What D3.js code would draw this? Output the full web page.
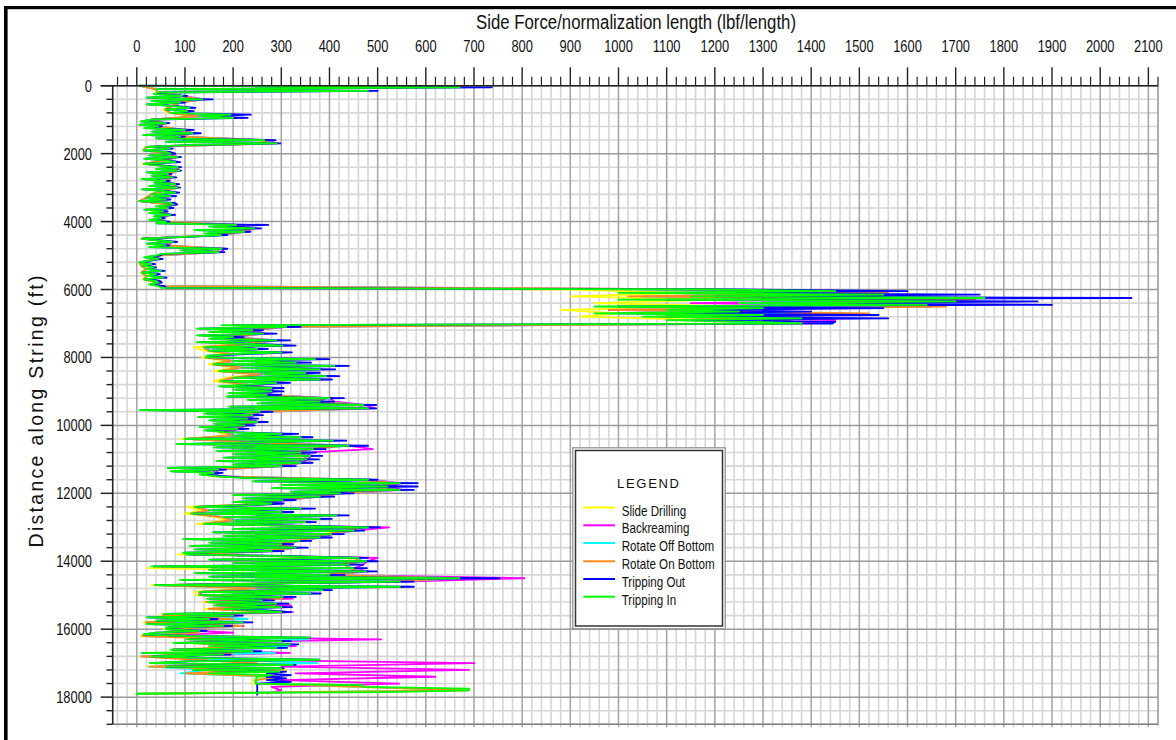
<!DOCTYPE html>
<html><head><meta charset="utf-8">
<script src="https://cdn.jsdelivr.net/npm/d3@7"></script>
<style>
body{margin:0;background:#fff;}
svg{display:block;}
</style></head><body>
<svg id="c" width="1176" height="740"></svg>
<script>
// ---------------- DATA ----------------
const depthsCoarse = d3.range(0, 18000, 100); // sampling grid (ft) for drilling / rotating / backreaming
const depthsFine = d3.range(0, 18000, 50);    // sampling grid (ft) for tripping runs
const xTickLabels = [0,100,200,300,400,500,600,700,800,900,1000,1100,1200,1300,1400,1500,1600,1700,1800,1900,2000,2100];
const yTickLabels = [0,2000,4000,6000,8000,10000,12000,14000,16000,18000];
const seriesNames = ["Slide Drilling","Backreaming","Rotate Off Bottom","Rotate On Bottom","Tripping Out","Tripping In"];
const seriesColors = ["#ffff00","#ff00ff","#00ffff","#ff8c1a","#0000ff","#00ff00"];

const slideDrilling = [
5,36,42,90,128,85,70,55,66,122,
28,55,42,95,110,85,250,270,18,12,
66,80,55,12,80,82,60,70,55,75,
80,50,26,18,4,70,60,50,65,46,
55,195,230,210,165,8,70,55,165,160,
36,42,4,8,18,8,18,12,40,40,
900,1150,900,1200,950,1250,880,1000,920,1200,
1250,290,225,245,185,270,215,118,140,185,
135,185,150,205,160,245,185,160,215,265,
265,255,380,360,445,450,240,225,215,235,
210,195,170,185,90,235,415,345,320,340,
330,320,285,155,150,155,450,520,495,520,
400,360,285,265,105,135,100,165,185,125,
455,425,385,360,320,280,310,265,85,440,
450,415,22,450,380,640,520,30,235,120,
120,290,138,275,140,285,48,190,14,210,
55,120,8,340,95,300,70,275,6,170,
360,22,310,110,280,240,240,450,660,0];

const backreaming = [
5,40,45,95,140,90,75,60,70,135,
30,60,45,100,116,90,268,292,20,14,
70,85,60,15,85,88,65,75,60,80,
85,55,30,20,5,75,65,55,70,50,
60,210,244,223,175,10,75,60,182,175,
40,45,5,10,20,10,20,15,45,45,
1200,1500,1050,1700,1150,1650,980,1400,1100,1450,
1380,312,242,265,202,292,232,142,152,202,
146,202,162,222,174,262,202,177,232,282,
282,272,402,410,472,495,257,242,232,252,
226,212,184,202,100,252,442,490,345,362,
355,342,302,171,162,171,485,548,525,550,
425,383,306,282,122,152,115,182,202,142,
524,452,406,383,340,302,333,282,105,500,
478,470,452,480,402,805,555,38,386,133,
133,324,148,320,152,324,56,220,21,222,
63,200,14,507,106,330,78,318,11,179,
701,300,690,330,620,300,545,280,300,270];

const rotateOffBottom = [
5,39,45,93,134,89,73,59,69,128,
29,59,44,98,114,89,260,285,20,14,
69,83,59,15,83,86,64,73,59,79,
83,54,29,20,6,73,64,54,69,49,
59,202,240,220,172,10,73,59,174,168,
39,44,6,10,20,10,20,15,44,44,
1180,1500,1050,1720,1250,1650,1000,1350,1200,1150,
1334,305,237,258,198,286,228,139,149,198,
143,198,159,218,171,257,198,173,228,277,
277,267,396,376,465,475,252,238,228,248,
222,208,181,198,99,248,435,362,337,356,
348,337,297,167,159,167,475,540,515,540,
418,376,300,277,120,149,113,178,198,139,
475,445,400,376,335,297,327,277,103,455,
471,436,445,471,396,662,540,38,248,130,
129,300,143,287,230,298,53,230,19,217,
59,128,12,355,101,315,74,287,9,176,
375,25,150,90,292,245,246,465,685,0];

const rotateOnBottom = [
5,38,44,92,132,88,72,58,68,126,
29,58,44,97,112,88,258,282,20,14,
68,82,58,15,82,85,63,72,58,78,
82,53,29,20,6,72,63,53,68,48,
58,200,238,218,170,10,72,58,172,166,
39,44,6,10,20,10,20,15,44,44,
1190,1560,1020,1740,1330,1680,980,1520,1080,1360,
1340,300,235,255,196,282,226,138,148,196,
142,196,158,216,170,255,196,172,226,275,
275,265,392,372,460,470,250,236,226,245,
220,206,180,196,100,245,430,358,334,352,
345,334,295,166,158,166,470,535,510,535,
414,372,298,275,120,148,112,176,196,138,
470,440,396,372,332,295,325,275,103,450,
466,432,440,466,392,655,535,40,245,130,
130,302,144,288,149,299,54,199,19,219,
60,129,12,200,102,250,75,200,9,120,
250,26,250,100,295,247,247,467,688,0];

const trippingOut = [
5,737,45,500,48,38,105,22,158,32,100,22,85,122,62,118,75,237,135,230,
32,10,68,6,52,18,118,33,133,15,100,42,288,65,298,105,22,75,16,68,
80,28,92,18,66,90,18,58,92,42,92,22,72,32,82,12,68,38,88,28,
90,12,60,88,32,82,22,70,7,78,84,45,76,18,64,28,80,38,58,28,
68,42,273,160,258,125,236,150,188,105,12,45,84,22,68,28,188,95,182,55,
48,18,54,28,8,38,12,40,22,58,12,48,25,62,18,48,52,28,58,60,
1250,1600,1100,1750,1200,2065,1100,1870,1300,1900,1000,1550,1150,1400,1000,1540,1100,1560,1150,1450,
1444,200,340,130,262,155,290,130,222,155,318,130,250,330,145,272,155,322,225,150,
150,400,205,362,165,440,225,412,180,380,265,420,205,405,180,318,250,175,305,205,
305,195,300,190,430,235,410,260,497,195,497,8,282,145,262,130,252,155,272,165,
245,135,232,145,190,335,205,365,105,435,255,85,480,165,392,170,372,205,385,185,
378,170,365,205,330,65,185,75,178,135,185,230,500,245,583,305,583,285,575,325,
450,205,410,225,330,205,305,235,125,370,155,325,118,440,185,405,205,372,145,325,
505,205,472,160,430,185,405,100,362,155,325,115,355,125,305,100,110,325,480,155,
500,205,470,35,478,155,498,125,432,155,753,95,575,305,40,575,270,405,135,382,
135,330,150,285,155,315,165,322,185,272,320,58,220,22,168,42,240,22,198,65,
65,145,42,15,112,360,110,320,80,335,160,312,75,258,12,195,32,165,379,105,
30,330,62,305,120,310,270,320,269,310,270,320,250,250,250,250,250,250,250,250];

const trippingIn = [
5,670,40,480,45,35,95,20,137,30,90,20,75,110,60,105,70,195,130,200,
30,8,60,5,45,15,100,30,116,13,90,40,265,60,290,100,20,68,14,60,
70,25,85,15,60,80,15,50,85,40,88,20,65,30,75,10,60,35,80,25,
85,10,55,80,30,70,20,60,5,70,75,40,65,15,55,25,70,35,50,25,
60,40,206,150,244,120,223,140,175,100,10,40,75,20,60,25,176,90,170,50,
40,15,45,25,5,30,10,35,20,50,10,40,20,55,15,40,45,25,45,50,
1200,1450,1000,1550,1150,1760,1000,1700,1250,1640,950,1300,1100,1250,950,1300,1050,1380,1100,1280,
1380,176,310,124,240,150,262,124,200,150,290,124,230,303,140,250,150,300,200,145,
145,370,200,330,160,410,220,380,172,350,260,393,200,380,175,289,230,170,280,200,
280,190,270,186,400,230,380,250,470,190,480,6,255,140,240,127,230,150,250,160,
224,130,210,140,182,300,200,341,99,407,250,82,440,160,366,165,340,200,360,180,
352,165,340,200,300,65,169,70,160,130,169,227,480,240,546,300,520,280,546,320,
422,200,380,220,303,200,280,230,120,341,150,300,113,414,180,380,200,350,140,300,
480,200,450,158,404,180,380,96,338,150,300,110,330,120,280,96,103,300,460,150,
476,200,440,30,450,150,476,120,400,150,670,89,546,300,37,546,250,386,131,360,
131,303,145,260,150,290,160,300,180,250,300,55,200,20,150,40,220,20,180,61,
61,130,40,13,100,359,103,300,76,318,150,290,70,240,10,179,30,150,379,100,
27,324,60,300,117,296,150,280,248,248,248,248,248,469,469,690,690,524,0,0];

const seriesValues = [slideDrilling, backreaming, rotateOffBottom, rotateOnBottom, trippingOut, trippingIn];
const seriesDepths = [depthsCoarse, depthsCoarse, depthsCoarse, depthsCoarse, depthsFine, depthsFine];

// ---------------- CHART ----------------
const svg = d3.select("#c");
const FONT = '"Liberation Sans",Arial,sans-serif';
const L = 112.7, R = 1158, T = 85.7, B = 724.3;
const x = d3.scaleLinear().domain([-50, 2120]).range([L, R]);
const y = d3.scaleLinear().domain([0, 18800]).range([T, B]);

function narrow(sel, factor) {
  sel.each(function () {
    const w = this.getComputedTextLength();
    d3.select(this).attr("textLength", (w * factor).toFixed(1)).attr("lengthAdjust", "spacingAndGlyphs");
  });
}

svg.append("rect").attr("width",1176).attr("height",740).attr("fill","#fff");

// frame (black)
svg.append("rect").attr("x",4).attr("y",6).attr("width",1172).attr("height",3.2).attr("fill","#000");
svg.append("rect").attr("x",4).attr("y",6).attr("width",3.6).attr("height",734).attr("fill","#000");

// grid
const g = svg.append("g");
const xMinor = d3.range(-40, 2121, 20).filter(v => v % 100 !== 0);
const xMajor = d3.range(0, 2101, 100);
const yMinor = d3.range(400, 18801, 400).filter(v => v % 2000 !== 0);
const yMajor = d3.range(0, 18001, 2000);
g.selectAll(".vmin").data(xMinor).join("line")
  .attr("x1", d => x(d)).attr("x2", d => x(d)).attr("y1", T).attr("y2", B + 3)
  .attr("stroke", "#d6d6d6").attr("stroke-width", 1.6);
g.selectAll(".hmin").data(yMinor).join("line")
  .attr("y1", d => y(d)).attr("y2", d => y(d)).attr("x1", L).attr("x2", R)
  .attr("stroke", "#d6d6d6").attr("stroke-width", 1.6);
g.selectAll(".vmaj").data(xMajor).join("line")
  .attr("x1", d => x(d)).attr("x2", d => x(d)).attr("y1", T).attr("y2", B + 3)
  .attr("stroke", "#a3a3a3").attr("stroke-width", 1.5);
g.selectAll(".hmaj").data(yMajor).join("line")
  .attr("y1", d => y(d)).attr("y2", d => y(d)).attr("x1", L).attr("x2", R)
  .attr("stroke", "#9a9a9a").attr("stroke-width", 1.5);

// data lines
svg.append("clipPath").attr("id","clip").append("rect")
  .attr("x", L).attr("y", T - 2).attr("width", R - L).attr("height", B - T + 2);
const line = d3.line().x(d => x(d.v)).y(d => y(d.d)).curve(d3.curveLinear);
const dg = svg.append("g").attr("clip-path","url(#clip)");
seriesValues.forEach((vals, i) => {
  const pts = seriesDepths[i].map((d, k) => ({d: d, v: vals[k]})).filter(p => p.v !== undefined);
  dg.append("path").datum(pts).attr("d", line)
    .attr("fill","none").attr("stroke", seriesColors[i]).attr("stroke-width", 1.8)
    .attr("stroke-linejoin","round");
});

// right & bottom border of plot
svg.append("line").attr("x1",R).attr("x2",R).attr("y1",T).attr("y2",B).attr("stroke","#a0a0a0").attr("stroke-width",1.5);
svg.append("line").attr("x1",L).attr("x2",R).attr("y1",B).attr("y2",B).attr("stroke","#808080").attr("stroke-width",1.5);

// top axis
const ax = svg.append("g");
ax.append("line").attr("x1",100.7).attr("x2",R).attr("y1",T).attr("y2",T).attr("stroke","#222").attr("stroke-width",1.6);
ax.selectAll(".tmin").data(d3.range(-40, 2121, 20).filter(v => v % 100 !== 0)).join("line")
  .attr("x1", d => x(d)).attr("x2", d => x(d)).attr("y1", 76.7).attr("y2", T)
  .attr("stroke","#222").attr("stroke-width",1.2);
ax.selectAll(".tmaj").data(xTickLabels).join("line")
  .attr("x1", d => x(d)).attr("x2", d => x(d)).attr("y1", 67.3).attr("y2", T)
  .attr("stroke","#222").attr("stroke-width",1.4);
ax.selectAll(".tlab").data(xTickLabels).join("text")
  .attr("x", d => x(d)).attr("y", 51.5).attr("text-anchor","middle")
  .attr("font-family", FONT).attr("font-size", 16.5).attr("fill","#111")
  .text(d => d).call(narrow, 0.78);
ax.append("text").attr("x", 636).attr("y", 28.5).attr("text-anchor","middle")
  .attr("font-family", FONT).attr("font-size", 19.5).attr("fill","#111")
  .attr("textLength", 320).attr("lengthAdjust","spacingAndGlyphs")
  .text("Side Force/normalization length (lbf/length)");

// left axis
const ay = svg.append("g");
ay.append("line").attr("x1",L).attr("x2",L).attr("y1",T).attr("y2",B).attr("stroke","#222").attr("stroke-width",1.6);
ay.selectAll(".lmin").data(d3.range(400, 18801, 400).filter(v => v % 2000 !== 0)).join("line")
  .attr("y1", d => y(d)).attr("y2", d => y(d)).attr("x1", 106.5).attr("x2", L)
  .attr("stroke","#222").attr("stroke-width",1.4);
ay.selectAll(".lmaj").data(yTickLabels).join("line")
  .attr("y1", d => y(d)).attr("y2", d => y(d)).attr("x1", 100.7).attr("x2", L)
  .attr("stroke","#222").attr("stroke-width",1.5);
ay.selectAll(".llab").data(yTickLabels).join("text")
  .attr("x", 92).attr("y", d => y(d) + 6).attr("text-anchor","end")
  .attr("font-family", FONT).attr("font-size", 16.5).attr("fill","#111")
  .text(d => d).call(narrow, 0.78);
ay.append("text").attr("transform","translate(43,411.5) rotate(-90)").attr("text-anchor","middle")
  .attr("font-family", FONT).attr("font-size", 19.5).attr("fill","#111")
  .attr("textLength", 272).attr("lengthAdjust","spacing")
  .text("Distance along String (ft)");

// legend
const lg = svg.append("g");
lg.append("rect").attr("x",572.8).attr("y",447.8).attr("width",152.4).attr("height",181)
  .attr("fill","#fff").attr("stroke","#8a8a8a").attr("stroke-width",1.2);
lg.append("rect").attr("x",575.5).attr("y",450.5).attr("width",147).attr("height",175.5)
  .attr("fill","#fff").attr("stroke","#333").attr("stroke-width",1.5);
lg.append("text").attr("x",648).attr("y",488).attr("text-anchor","middle")
  .attr("font-family", FONT).attr("font-size", 13).attr("fill","#111")
  .attr("textLength", 62).attr("lengthAdjust","spacing")
  .text("LEGEND");
const legendY = [507.5, 525.3, 543, 561.3, 579, 596.7];
seriesNames.forEach((n, i) => {
  lg.append("line").attr("x1",583.3).attr("x2",615).attr("y1",legendY[i]).attr("y2",legendY[i])
    .attr("stroke", seriesColors[i]).attr("stroke-width", 2);
  lg.append("text").attr("x",621.7).attr("y",legendY[i] + 8)
    .attr("font-family", FONT).attr("font-size", 14.5).attr("fill","#111").text(n)
    .call(narrow, 0.8);
});
</script>
</body></html>
